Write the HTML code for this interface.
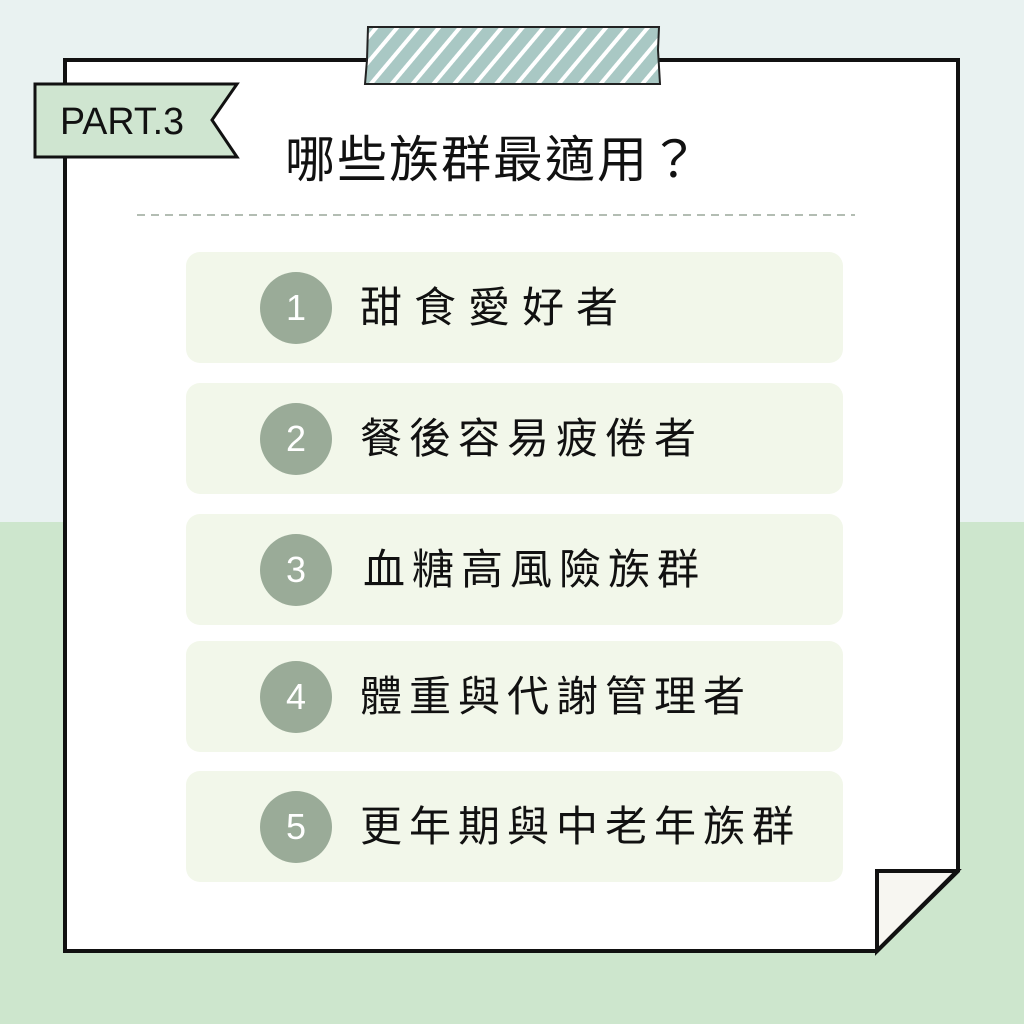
<!DOCTYPE html>
<html><head><meta charset="utf-8"><style>
*{margin:0;padding:0;box-sizing:border-box}
body{width:1024px;height:1024px;position:relative;overflow:hidden;background:#cde6cd;font-family:"Liberation Sans","Noto Sans CJK TC",sans-serif}
.top{position:absolute;left:0;top:0;width:1024px;height:522px;background:#e9f2f1}
.row{position:absolute;left:186px;width:657px;height:111px;background:#f2f7ea;border-radius:14px}
.c{position:absolute;left:74px;top:20px;width:72px;height:72px;border-radius:50%;background:#9aab98;color:#fff;font-size:36px;line-height:72px;text-align:center}
.t{position:absolute;left:174px;top:0;line-height:111px;font-size:42px;color:#111;white-space:nowrap}
</style></head><body>
<div class="top"></div>
<svg style="position:absolute;left:0;top:0" width="1024" height="1024">
<defs><pattern id="st" width="16" height="16" patternUnits="userSpaceOnUse" patternTransform="rotate(40)"><rect width="16" height="16" fill="#a9c8c4"/><rect width="4" height="16" fill="#fff"/></pattern></defs>
<path d="M65,60 H958 V871 L877,951 H65 Z" fill="#fff" stroke="#111" stroke-width="4"/>
<path d="M877,871 H957 L877,951 Z" fill="#f7f6f1" stroke="#111" stroke-width="4" stroke-linejoin="miter"/>
<path d="M368,27 H659 L658,50 L660,84 H365 L367,60 Z" fill="url(#st)" stroke="#222" stroke-width="2"/>
<path d="M35,84 H237 L212,120 L237,157 H35 Z" fill="#cfe5d0" stroke="#111" stroke-width="3"/>
<text x="60" y="134" font-size="38" font-family="Liberation Sans, sans-serif" fill="#111" textLength="124" lengthAdjust="spacingAndGlyphs">PART.3</text>
<line x1="137" y1="215" x2="855" y2="215" stroke="#9aa79a" stroke-width="1.5" stroke-dasharray="8 6"/>
</svg>
<div style="position:absolute;left:285px;top:130px;font-size:50px;line-height:60px;letter-spacing:2px;color:#111">哪些族群最適用？</div>
<div class="row" style="top:252px"><div class="c">1</div><div class="t" style="letter-spacing:12px">甜食愛好者</div></div>
<div class="row" style="top:383px"><div class="c">2</div><div class="t" style="letter-spacing:7px">餐後容易疲倦者</div></div>
<div class="row" style="top:514px"><div class="c">3</div><div class="t" style="letter-spacing:7px;left:177px">血糖高風險族群</div></div>
<div class="row" style="top:641px"><div class="c">4</div><div class="t" style="letter-spacing:7px">體重與代謝管理者</div></div>
<div class="row" style="top:771px"><div class="c">5</div><div class="t" style="letter-spacing:7px">更年期與中老年族群</div></div>
</body></html>
